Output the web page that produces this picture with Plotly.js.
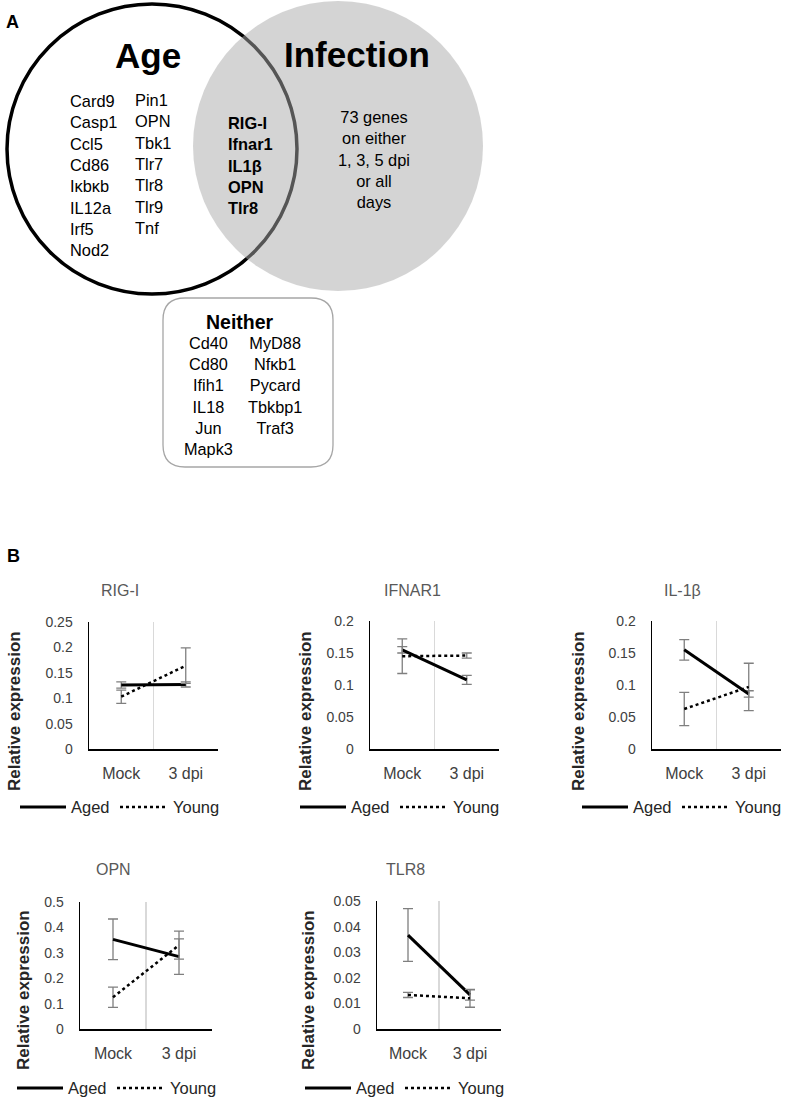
<!DOCTYPE html>
<html>
<head>
<meta charset="utf-8">
<script src="https://cdn.plot.ly/plotly-3.0.1.min.js"></script>
<style>html,body{margin:0;padding:0;background:#fff;}#chart{width:788px;height:1101px;}</style>
</head>
<body>
<div id="chart"></div>
<script>
// ---------- DATA ----------
const categories = ['Mock', '3 dpi'];
const seriesNames = ['Aged', 'Young'];
const geneTitles = ['RIG-I', 'IFNAR1', 'IL-1β', 'OPN', 'TLR8'];

const rigAged = [0.126, 0.127];   const rigAgedErr = [0.006, 0.005];
const rigYoung = [0.103, 0.164];  const rigYoungErr = [0.013, 0.035];
const ifnAged = [0.155, 0.108];   const ifnAgedErr = [0.005, 0.007];
const ifnYoung = [0.145, 0.146];  const ifnYoungErr = [0.027, 0.004];
const il1Aged = [0.155, 0.086];   const il1AgedErr = [0.016, 0.005];
const il1Young = [0.0625, 0.097]; const il1YoungErr = [0.026, 0.037];
const opnAged = [0.353, 0.285];   const opnAgedErr = [0.08, 0.07];
const opnYoung = [0.125, 0.33];   const opnYoungErr = [0.04, 0.055];
const tlrAged = [0.0367, 0.0133]; const tlrAgedErr = [0.0103, 0.002];
const tlrYoung = [0.0133, 0.012]; const tlrYoungErr = [0.001, 0.0035];

const yMaxes = [0.25, 0.2, 0.2, 0.5, 0.05];
const yDticks = [0.05, 0.05, 0.05, 0.1, 0.01];

// Venn / text lists
const ageOnlyCol1 = ['Card9', 'Casp1', 'Ccl5', 'Cd86', 'Iκbκb', 'IL12a', 'Irf5', 'Nod2'];
const ageOnlyCol2 = ['Pin1', 'OPN', 'Tbk1', 'Tlr7', 'Tlr8', 'Tlr9', 'Tnf'];
const bothGenes = ['RIG-I', 'Ifnar1', 'IL1β', 'OPN', 'Tlr8'];
const infectionOnly = ['73 genes', 'on either', '1, 3, 5 dpi', 'or all', 'days'];
const neitherCol1 = ['Cd40', 'Cd80', 'Ifih1', 'IL18', 'Jun', 'Mapk3'];
const neitherCol2 = ['MyD88', 'Nfκb1', 'Pycard', 'Tbkbp1', 'Traf3'];

// ---------- LAYOUT HELPERS ----------
const W = 788, H = 1101;
const px = x => x / W;
const py = y => 1 - y / H;
const FONT = 'Arial, "Liberation Sans", sans-serif';

const boxes = [
  {x0: 89,  x1: 218, y0: 622, y1: 749, tx: 120, ty: 590, ytx: 14,  yty: 711, leg: 20,  legY: 807},
  {x0: 370, x1: 499, y0: 621, y1: 749, tx: 412, ty: 590, ytx: 305, yty: 711, leg: 300, legY: 807},
  {x0: 652, x1: 781, y0: 621, y1: 749, tx: 682, ty: 590, ytx: 578, yty: 711, leg: 582, legY: 807},
  {x0: 80,  x1: 212, y0: 902, y1: 1029, tx: 113, ty: 869, ytx: 23,  yty: 990, leg: 17,  legY: 1088},
  {x0: 377, x1: 501, y0: 901, y1: 1029, tx: 405, ty: 869, ytx: 308, yty: 990, leg: 305, legY: 1088}
];

const agedSets = [[rigAged, rigAgedErr], [ifnAged, ifnAgedErr], [il1Aged, il1AgedErr], [opnAged, opnAgedErr], [tlrAged, tlrAgedErr]];
const youngSets = [[rigYoung, rigYoungErr], [ifnYoung, ifnYoungErr], [il1Young, il1YoungErr], [opnYoung, opnYoungErr], [tlrYoung, tlrYoungErr]];

const traces = [];
const layout = {
  width: W, height: H,
  margin: {l: 0, r: 0, t: 0, b: 0},
  paper_bgcolor: '#fff', plot_bgcolor: 'rgba(0,0,0,0)',
  showlegend: false,
  font: {family: FONT, color: '#000'},
  shapes: [], annotations: []
};

function ann(text, x, y, opts) {
  layout.annotations.push(Object.assign({
    text: text, x: px(x), y: py(y), xref: 'paper', yref: 'paper',
    showarrow: false, xanchor: 'center', yanchor: 'middle'
  }, opts || {}));
}

const errStyle = (arr) => ({type: 'data', array: arr, visible: true, color: '#7f7f7f', thickness: 1.3, width: 5});

boxes.forEach((b, i) => {
  const s = i === 0 ? '' : String(i + 1);
  const xName = 'x' + s, yName = 'y' + s;
  layout['xaxis' + s] = {
    domain: [px(b.x0), px(b.x1)], anchor: yName, type: 'category',
    categoryarray: categories, categoryorder: 'array', range: [-0.5, 1.5],
    tickson: 'boundaries', showgrid: true, gridcolor: '#d9d9d9', gridwidth: 1.2,
    showline: true, linecolor: '#000', linewidth: 1.5, ticks: '', zeroline: false,
    tickfont: {family: FONT, size: 16, color: '#404040'}, ticklabelstandoff: 9, fixedrange: true
  };
  layout['yaxis' + s] = {
    domain: [py(b.y1), py(b.y0)], anchor: xName, range: [0, yMaxes[i]],
    tick0: 0, dtick: yDticks[i], showgrid: false, zeroline: false,
    showline: true, linecolor: '#000', linewidth: 1.5, ticks: '',
    tickfont: {family: FONT, size: 14, color: '#404040'}, ticklabelstandoff: 12, fixedrange: true
  };
  traces.push({
    x: categories, y: agedSets[i][0], error_y: errStyle(agedSets[i][1]),
    xaxis: xName, yaxis: yName, mode: 'lines', name: seriesNames[0],
    line: {color: '#000', width: 3}, hoverinfo: 'skip'
  });
  traces.push({
    x: categories, y: youngSets[i][0], error_y: errStyle(youngSets[i][1]),
    xaxis: xName, yaxis: yName, mode: 'lines', name: seriesNames[1],
    line: {color: '#000', width: 2.5, dash: 'dot'}, hoverinfo: 'skip'
  });
  // chart title
  ann(geneTitles[i], b.tx, b.ty, {font: {family: FONT, size: 16, color: '#595959'}});
  // y axis title
  ann('Relative expression', b.ytx, b.yty, {textangle: -90, font: {family: FONT, size: 17, weight: 'bold', color: '#262626'}});
  // legend
  const L = b.leg, LY = b.legY;
  layout.shapes.push({type: 'line', xref: 'paper', yref: 'paper', x0: px(L), x1: px(L + 46), y0: py(LY), y1: py(LY), line: {color: '#000', width: 3}});
  layout.shapes.push({type: 'line', xref: 'paper', yref: 'paper', x0: px(L + 100), x1: px(L + 146), y0: py(LY), y1: py(LY), line: {color: '#000', width: 2.5, dash: 'dot'}});
  ann(seriesNames[0], L + 49, LY, {xanchor: 'left', font: {family: FONT, size: 16.5, color: '#262626'}});
  ann(seriesNames[1], L + 151, LY, {xanchor: 'left', font: {family: FONT, size: 16.5, color: '#262626'}});
});

// ---------- PANEL A: Venn ----------
// Age circle outline
layout.shapes.push({type: 'circle', xref: 'paper', yref: 'paper', layer: 'below',
  x0: px(7), x1: px(297), y0: py(294), y1: py(4), line: {color: '#000', width: 3.5}, fillcolor: 'rgba(0,0,0,0)'});
// Infection circle (translucent grey, darkens the Age outline where it overlaps)
layout.shapes.push({type: 'circle', xref: 'paper', yref: 'paper', layer: 'below',
  x0: px(193), x1: px(483), y0: py(291), y1: py(1), line: {width: 0}, fillcolor: 'rgba(170,170,170,0.5)'});
// Neither rounded box
function roundRect(x0, y0, x1, y1, r) {
  return `M ${px(x0 + r)},${py(y0)} L ${px(x1 - r)},${py(y0)} Q ${px(x1)},${py(y0)} ${px(x1)},${py(y0 + r)} ` +
         `L ${px(x1)},${py(y1 - r)} Q ${px(x1)},${py(y1)} ${px(x1 - r)},${py(y1)} ` +
         `L ${px(x0 + r)},${py(y1)} Q ${px(x0)},${py(y1)} ${px(x0)},${py(y1 - r)} ` +
         `L ${px(x0)},${py(y0 + r)} Q ${px(x0)},${py(y0)} ${px(x0 + r)},${py(y0)} Z`;
}
layout.shapes.push({type: 'path', xref: 'paper', yref: 'paper', layer: 'below',
  path: roundRect(163, 298, 333, 467, 22), line: {color: '#a6a6a6', width: 1.3}, fillcolor: '#fff'});

ann('A', 12, 22, {font: {family: FONT, size: 18, weight: 'bold'}});
ann('B', 13, 556, {font: {family: FONT, size: 18, weight: 'bold'}});
ann('Age', 148, 56, {font: {family: FONT, size: 35, weight: 'bold'}});
ann('Infection', 357, 55, {font: {family: FONT, size: 35, weight: 'bold'}});

const listFont = {family: FONT, size: 16.4, color: '#000'};
ann(ageOnlyCol1.join('<br>'), 68, 175, {xanchor: 'left', align: 'left', font: listFont});
ann(ageOnlyCol2.join('<br>'), 133, 164, {xanchor: 'left', align: 'left', font: listFont});
ann(bothGenes.join('<br>'), 226, 165, {xanchor: 'left', align: 'left', font: Object.assign({}, listFont, {weight: 'bold'})});
ann(infectionOnly.join('<br>'), 374, 159, {align: 'center', font: listFont});

ann('Neither', 240, 322, {font: {family: FONT, size: 19.5, weight: 'bold'}});
ann(neitherCol1.join('<br>'), 208, 396, {align: 'center', font: {family: FONT, size: 16.3}});
ann(neitherCol2.join('<br>'), 275, 385.5, {align: 'center', font: {family: FONT, size: 16.3}});

Plotly.newPlot('chart', traces, layout, {displayModeBar: false, staticPlot: true});
</script>
</body>
</html>
